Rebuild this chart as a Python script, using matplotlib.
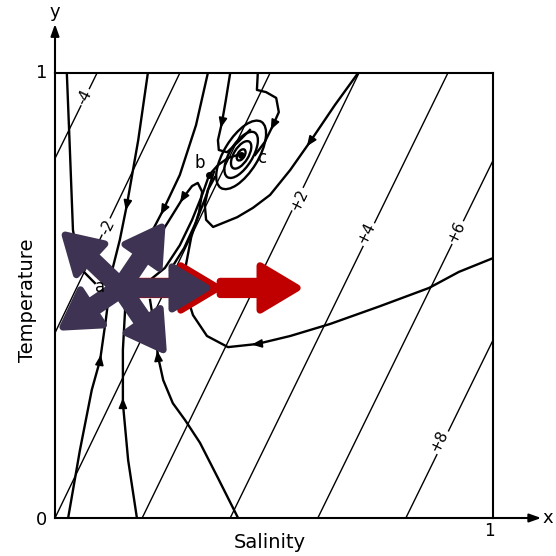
import numpy as np
import matplotlib
matplotlib.use("Agg")
from matplotlib import pyplot as plt
from matplotlib.patches import Ellipse, FancyArrow

# straight contour lines: level, x where it meets y=0, x where it meets y=1
contour_levels = ["-4", "-2", "0", "+2", "+4", "+6", "+8"]
contour_x_bottom = [-0.404, -0.203, 0.0, 0.199, 0.400, 0.600, 0.801]
contour_x_top = [0.096, 0.285, 0.491, 0.694, 0.897, 1.098, 1.299]

# contour labels (text, x, y)
label_text = ["-4", "-2", "+2", "+4", "+6", "+8"]
label_x = [0.068, 0.119, 0.557, 0.710, 0.916, 0.877]
label_y = [0.946, 0.654, 0.715, 0.640, 0.643, 0.173]

# trajectories, with the index of an arrow head
traj = {
    "t1": ([0.027, 0.034, 0.041, 0.057, 0.091],
           [1.0, 0.827, 0.647, 0.562, 0.528], []),
    "t2": ([0.212, 0.190, 0.164, 0.148, 0.126],
           [1.0, 0.849, 0.703, 0.625, 0.539], [2]),
    "t3": ([0.349, 0.322, 0.285, 0.247, 0.205, 0.160],
           [1.0, 0.883, 0.771, 0.692, 0.613, 0.546], [3]),
    "t4": ([0.400, 0.390, 0.381, 0.372, 0.374, 0.393, 0.418, 0.445],
           [1.0, 0.939, 0.888, 0.849, 0.827, 0.822, 0.845, 0.872], [2]),
    "t5": ([0.463, 0.461, 0.482, 0.505, 0.511, 0.498, 0.479, 0.457],
           [1.0, 0.962, 0.957, 0.944, 0.912, 0.883, 0.845, 0.816], [5]),
    "t6": ([0.692, 0.639, 0.582, 0.537, 0.491, 0.452, 0.416, 0.361, 0.345, 0.342, 0.349, 0.365],
           [1.0, 0.928, 0.845, 0.782, 0.726, 0.697, 0.676, 0.654, 0.670, 0.703, 0.737, 0.766], [2]),
    "t7": ([1.0, 0.922, 0.854, 0.742, 0.628, 0.537, 0.461, 0.395, 0.347, 0.315, 0.297, 0.299,
            0.311, 0.329, 0.336, 0.326, 0.313, 0.292, 0.258, 0.221, 0.183],
           [0.584, 0.553, 0.517, 0.476, 0.436, 0.409, 0.391, 0.384, 0.409, 0.456, 0.512, 0.569,
            0.631, 0.688, 0.733, 0.753, 0.746, 0.719, 0.665, 0.607, 0.553], [6, 17]),
    "t8": ([0.352, 0.336, 0.313, 0.285, 0.251, 0.217],
           [0.771, 0.726, 0.670, 0.613, 0.562, 0.535], []),
    "t9": ([0.363, 0.345, 0.322, 0.295, 0.263],
           [0.778, 0.724, 0.665, 0.607, 0.557], []),
    "bc": ([0.352, 0.372, 0.395, 0.418],
           [0.771, 0.793, 0.809, 0.816], []),
    "b1": ([0.030, 0.057, 0.084, 0.103, 0.116, 0.126],
           [0.0, 0.153, 0.288, 0.355, 0.445, 0.524], [3]),
    "b2": ([0.187, 0.167, 0.155, 0.155, 0.160, 0.153],
           [0.0, 0.130, 0.258, 0.378, 0.467, 0.512], [2]),
    "b3": ([0.418, 0.372, 0.331, 0.297, 0.269, 0.247, 0.235, 0.228, 0.217],
           [0.0, 0.090, 0.169, 0.220, 0.258, 0.310, 0.364, 0.422, 0.490], [6]),
}

# closed orbits round the focus c
c_center = (0.425, 0.816)
c_widths = [0.175, 0.118, 0.070, 0.028]
c_heights = [0.078, 0.052, 0.033, 0.016]
c_angle = 58

# fixed points and their names
point_b = (0.352, 0.771)
names = ["a", "b", "c"]
names_x = [0.103, 0.331, 0.473]
names_y = [0.519, 0.798, 0.809]

# thick overlay arrows
purple_tail = (0.150, 0.517)
purple_tips_x = [0.023, 0.244, 0.018, 0.247, 0.347]
purple_tips_y = [0.636, 0.654, 0.429, 0.378, 0.517]
red_tail_x = [0.171, 0.377]
red_tip_x = [0.372, 0.553]
red_y = [0.517, 0.517]

fig = plt.figure(figsize=(5.56, 5.56), dpi=100)
ax = fig.add_axes([55 / 556, 38 / 556, 438 / 556, 445 / 556])
ax.set_xlim(0, 1)
ax.set_ylim(0, 1)
ax.set_xticks([])
ax.set_yticks([])
for s in ax.spines.values():
    s.set_linewidth(1.5)

# contours
for lev, x0, x1 in zip(contour_levels, contour_x_bottom, contour_x_top):
    ax.plot([x0, x1], [0, 1], color="black", lw=1.0, zorder=2)
for t, x, y in zip(label_text, label_x, label_y):
    ax.text(x, y, t, rotation=64, rotation_mode="anchor", ha="center", va="center",
            fontsize=11, zorder=3,
            bbox=dict(facecolor="white", edgecolor="none", pad=1.0))

# trajectories
for name, (xs, ys, heads) in traj.items():
    xs = np.array(xs)
    ys = np.array(ys)
    ax.plot(xs, ys, color="black", lw=1.7, zorder=4, solid_joinstyle="round")
    for i in heads:
        d = np.array([xs[i + 1] - xs[i], ys[i + 1] - ys[i]])
        d = d / np.hypot(*d)
        p = np.array([xs[i], ys[i]])
        ax.annotate("", xy=p + 0.012 * d, xytext=p - 0.01 * d,
                    arrowprops=dict(arrowstyle="-|>,head_length=0.6,head_width=0.25",
                                    color="black", lw=1.2, shrinkA=0, shrinkB=0),
                    zorder=5)

for w, h in zip(c_widths, c_heights):
    ax.add_patch(Ellipse(c_center, w, h, angle=c_angle, fill=False, color="black", lw=1.7, zorder=4))
ax.plot(*c_center, "o", color="black", ms=4, zorder=4)
ax.plot(*point_b, "o", color="black", ms=4, zorder=4)

# red arrows
for x0, x1, y in zip(red_tail_x, red_tip_x, red_y):
    ax.add_patch(FancyArrow(x0, y, x1 - x0, 0, width=0.030, head_width=0.100, head_length=0.085,
                            length_includes_head=True, facecolor="#c00000", edgecolor="#c00000",
                            lw=5, joinstyle="round", zorder=6))
# purple arrows
for tx, ty in zip(purple_tips_x, purple_tips_y):
    dx, dy = tx - purple_tail[0], ty - purple_tail[1]
    ax.add_patch(FancyArrow(purple_tail[0], purple_tail[1], dx, dy, width=0.028, head_width=0.095,
                            head_length=0.080, length_includes_head=True, facecolor="#3e3352",
                            edgecolor="#3e3352", lw=5, joinstyle="round", zorder=7))

for t, x, y in zip(names, names_x, names_y):
    ax.text(x, y, t, fontsize=12, ha="center", va="center", zorder=8)

# axis arrows and labels
ax.annotate("", xy=(0, 1.11), xytext=(0, 1.0), annotation_clip=False,
            arrowprops=dict(arrowstyle="-|>,head_length=0.7,head_width=0.25", color="black",
                            lw=1.5, shrinkA=0, shrinkB=0))
ax.annotate("", xy=(1.11, 0), xytext=(1.0, 0), annotation_clip=False,
            arrowprops=dict(arrowstyle="-|>,head_length=0.7,head_width=0.25", color="black",
                            lw=1.5, shrinkA=0, shrinkB=0))
ax.text(0, 1.137, "y", fontsize=13, ha="center", va="center")
ax.text(1.126, 0, "x", fontsize=13, ha="center", va="center")
ax.text(-0.03, 1.0, "1", fontsize=13, ha="center", va="center")
ax.text(-0.03, -0.005, "0", fontsize=13, ha="center", va="center")
ax.text(0.993, -0.03, "1", fontsize=12, ha="center", va="center")
ax.text(0.491, -0.056, "Salinity", fontsize=14, ha="center", va="center")
ax.text(-0.062, 0.49, "Temperature", fontsize=14, ha="center", va="center", rotation=90)

fig.savefig("out.png", dpi=100)
